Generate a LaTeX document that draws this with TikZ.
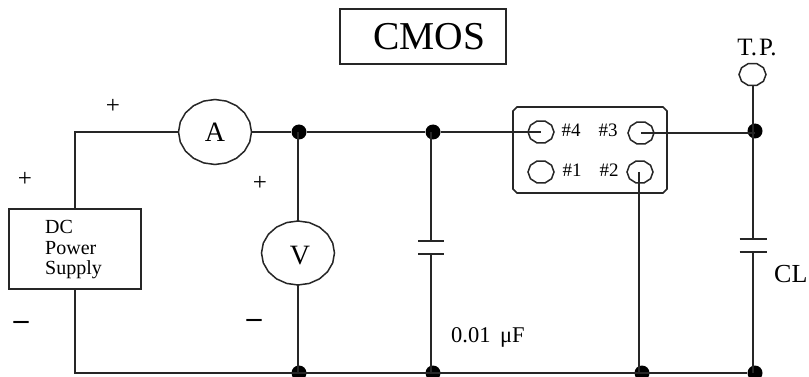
\documentclass[tikz,border=0pt]{standalone}
\usepackage{fontspec}
\setmainfont{Liberation Serif}
\usetikzlibrary{shapes.geometric}
\tikzset{
  wire/.style={line width=1.7pt,black!85},
  facetline/.style={line width=1.5pt,black!85},
  junction/.style={circle,fill=black,draw=none,minimum size=15pt,inner sep=0pt},
  port/.style={ellipse,inner sep=0pt},
  txt/.style={inner sep=0pt,text=black},
}
\newcommand{\facet}[7]{%
  \node[port,minimum width=#4*2pt,minimum height=#5*2pt,font=\fontsize{28}{28}\selectfont,text=black] (#1) at (#2,#3) {#7};
  \draw[facetline] plot[samples=#6+1,domain=0:360] ({#2+#4*cos(\x)},{#3+#5*sin(\x)}) -- cycle;
}
\begin{document}
\begin{tikzpicture}[x=1pt,y=-1pt]
\fill[white] (0,0) rectangle (809,377);
\clip (0,0) rectangle (809,377);
% title
\node[draw,line width=1.7pt,black!85,minimum width=166pt,minimum height=55pt,inner sep=0pt,font=\fontsize{39.5}{39.5}\selectfont,text=black] (title) at (423,36.5) {\hspace*{12pt}CMOS};
% supply
\node[draw,line width=1.7pt,black!85,minimum width=132pt,minimum height=80pt,inner sep=0pt] (ps) at (75,249) {};
\node[txt,anchor=west,align=left,font=\fontsize{20}{20.5}\selectfont] (pstext) at (45,250) {DC\\Power\\Supply};
% meters
\facet{am}{215}{132}{36.5}{32.5}{20}{A}
\facet{vm}{298}{253}{36.5}{32}{20}{}
\node[txt,font=\fontsize{28}{28}\selectfont] (vmtext) at (300,256) {V};
% junctions
\node[junction] (j1) at (299,132) {};
\node[junction] (j2) at (433,132) {};
\node[junction] (j3) at (755,131) {};
\node[junction] (b1) at (299,373) {};
\node[junction] (b2) at (433,373) {};
\node[junction] (b3) at (642,373) {};
\node[junction] (b4) at (755,373) {};
% test point
\node[txt,font=\fontsize{25}{25}\selectfont] (tplabel) at (757,47) {T.\hspace{2pt}P.};
\facet{tp}{752.5}{74.5}{13.5}{11.5}{10}{}
% socket
\draw[wire] (513,111) -- (517,107) -- (663,107) -- (667,111) -- (667,189) -- (663,193) -- (517,193) -- (513,189) -- cycle;
\facet{p4}{541}{132}{13}{11.5}{10}{}
\facet{p3}{641}{133}{13}{11.5}{10}{}
\facet{p1}{541}{172}{13}{11.5}{10}{}
\facet{p2}{640}{172}{13}{11.5}{10}{}
\node[txt,font=\fontsize{19}{19}\selectfont] (l4) at (571,130) {\#4};
\node[txt,font=\fontsize{19}{19}\selectfont] (l3) at (608,130) {\#3};
\node[txt,font=\fontsize{19}{19}\selectfont] (l1) at (572,170) {\#1};
\node[txt,font=\fontsize{19}{19}\selectfont] (l2) at (609,170) {\#2};
% capacitors
\coordinate (c1t) at (431,241);
\coordinate (c1b) at (431,254);
\coordinate (c2t) at (753,239);
\coordinate (c2b) at (753,252);
\draw[wire] ([xshift=-13pt]c1t) -- ([xshift=13pt]c1t);
\draw[wire] ([xshift=-13pt]c1b) -- ([xshift=13pt]c1b);
\draw[wire] ([xshift=-13.5pt]c2t) -- ([xshift=13.5pt]c2t);
\draw[wire] ([xshift=-13.5pt]c2b) -- ([xshift=13.5pt]c2b);
% wires
\draw[wire] (ps.north) |- (am.west);
\draw[wire] (am.east) -- (j1);
\draw[wire] (j1) -- (j2);
\draw[wire] (j2) -- (p4.center);
\draw[wire] (p3.center) -- (p3.center -| j3);
\draw[wire] (c2t |- tp.south) -- (c2t);
\draw[wire] (c2b) -- (c2b |- b4);
\draw[wire] (j1 -| vm) -- (vm.north);
\draw[wire] (vm.south) -- (vm.south |- b1);
\draw[wire] (ps.south) |- (b4);
\draw[wire] (j2 -| c1t) -- (c1t);
\draw[wire] (c1b) -- (c1b |- b2);
\draw[wire] (p2.center) ++(-1,0) -- (639,373);
\node[txt,font=\fontsize{25}{25}\selectfont] (plus1) at (113,106) {+};
\node[txt,font=\fontsize{25}{25}\selectfont] (plus2) at (25,179) {+};
\node[txt,font=\fontsize{25}{25}\selectfont] (plus3) at (260,183) {+};
\node[txt,font=\fontsize{30}{30}\selectfont\bfseries] (minus1) at (21,325) {–};
\node[txt,font=\fontsize{30}{30}\selectfont\bfseries] (minus2) at (254,323) {–};
\node[txt,anchor=west,font=\fontsize{22.5}{22.5}\selectfont] (cval) at (451,337) {0.01\hspace{4pt} μF};
\node[txt,anchor=west,font=\fontsize{26}{26}\selectfont] (cl) at (774,274) {CL};
\end{tikzpicture}
\end{document}
